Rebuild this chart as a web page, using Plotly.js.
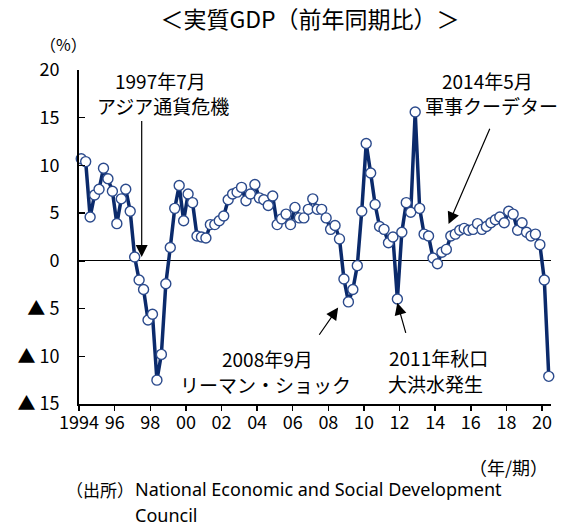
<!DOCTYPE html>
<html>
<head>
<meta charset="utf-8">
<script src="https://cdn.plot.ly/plotly-3.0.1.min.js"></script>
<style>html,body{margin:0;padding:0;background:#fff;}#chart{width:574px;height:526px;}</style>
</head>
<body>
<div id="chart"></div>
<script>
// Thailand real GDP, year-on-year change (%), quarterly from 1994 Q1 to 2020 Q2
const startYear = 1994;
const gdpYoY = [
  10.7, 10.4, 4.6, 6.9,     // 1994
  7.5, 9.7, 8.6, 7.3,       // 1995
  3.9, 6.5, 7.5, 5.2,       // 1996
  0.4, -2.0, -3.0, -6.2,    // 1997
  -5.6, -12.5, -9.8, -2.4,  // 1998
  1.4, 5.5, 7.9, 4.2,       // 1999
  7.0, 6.1, 2.6, 2.5,       // 2000
  2.4, 3.8, 3.8, 4.2,       // 2001
  4.7, 6.4, 7.0, 7.2,       // 2002
  7.7, 6.3, 7.0, 8.0,       // 2003
  6.6, 6.4, 5.8, 6.8,       // 2004
  3.8, 4.4, 4.9, 3.8,       // 2005
  5.6, 4.5, 4.5, 5.4,       // 2006
  6.5, 5.4, 5.4, 4.5,       // 2007
  3.3, 3.7, 2.3, -1.9,      // 2008
  -4.3, -3.0, -0.5, 5.2,    // 2009
  12.3, 9.2, 5.9, 3.6,      // 2010
  3.3, 1.9, 2.5, -4.0,      // 2011
  3.0, 6.1, 5.1, 15.6,      // 2012
  5.5, 2.8, 2.6, 0.3,       // 2013
  -0.3, 0.9, 1.2, 2.6,      // 2014
  2.8, 3.2, 3.4, 3.2,       // 2015
  3.3, 3.9, 3.3, 3.6,       // 2016
  4.0, 4.3, 4.6, 4.0,       // 2017
  5.2, 4.9, 3.2, 4.0,       // 2018
  3.0, 2.6, 2.8, 1.7,       // 2019
  -2.0, -12.1               // 2020
];
const xTickVals = [1994, 1996, 1998, 2000, 2002, 2004, 2006, 2008, 2010, 2012, 2014, 2016, 2018, 2020];
const xTickText = ["1994", "96", "98", "00", "02", "04", "06", "08", "10", "12", "14", "16", "18", "20"];
const yTickVals = [-15, -10, -5, 0, 5, 10, 15, 20];
const yTickText = ["▲ 15", "▲ 10", "▲ 5", "0", "5", "10", "15", "20"];

// quarter centre position on a continuous year axis
const xPos = gdpYoY.map((_, i) => startYear + Math.floor(i / 4) + (i % 4) / 4 + 0.125);

const FONT = '"Noto Sans CJK JP", "Noto Sans", sans-serif';
const L = 79, R = 551, T = 70, B = 404;
const px = v => (v - L) / (R - L);
const py = v => (B - v) / (B - T);

const trace = {
  x: xPos, y: gdpYoY, type: 'scatter', mode: 'lines+markers',
  line: {color: '#0b2a6b', width: 3.5},
  marker: {size: 10, color: '#ffffff', line: {color: '#2b4a8c', width: 1.4}},
  cliponaxis: false, hoverinfo: 'skip'
};

function txt(text, x, y, size, xanchor, family) {
  return {text: text, xref: 'paper', yref: 'paper', x: px(x), y: py(y), showarrow: false,
          xanchor: xanchor || 'center', yanchor: 'middle',
          font: {family: family || FONT, size: size, color: '#000'}};
}
function arrow(x, y, ax, ay) {
  return {text: '', x: x, y: y, ax: ax, ay: ay, xref: 'x', yref: 'y', axref: 'x', ayref: 'y',
          showarrow: true, arrowhead: 2, arrowsize: 2, arrowwidth: 1.2, arrowcolor: '#000'};
}

const layout = {
  width: 574, height: 526,
  margin: {l: L, r: 574 - R, t: T, b: 526 - B},
  paper_bgcolor: '#fff', plot_bgcolor: '#fff', showlegend: false,
  title: {text: '＜実質GDP（前年同期比）＞', x: 310 / 574, xanchor: 'center', xref: 'container',
          y: 1 - 20 / 526, yanchor: 'middle', yref: 'container', font: {family: FONT, size: 23, color: '#000'}},
  xaxis: {range: [1994, 2020.5], tickmode: 'array', tickvals: xTickVals, ticktext: xTickText,
          ticks: 'outside', ticklen: 5, tickwidth: 1.5, tickcolor: '#000',
          showline: true, linecolor: '#000', linewidth: 2, showgrid: false, zeroline: false,
          ticklabelstandoff: -4,
          tickfont: {family: FONT, size: 18, color: '#000'}, fixedrange: true},
  yaxis: {range: [-15, 20], tickmode: 'array', tickvals: yTickVals, ticktext: yTickText,
          ticks: 'inside', ticklen: 6, tickwidth: 1.5, tickcolor: '#000',
          showline: true, linecolor: '#000', linewidth: 2, showgrid: false,
          zeroline: true, zerolinecolor: '#000', zerolinewidth: 1,
          ticklabelstandoff: 14,
          tickfont: {family: FONT, size: 18, color: '#000'}, fixedrange: true},
  annotations: [
    txt('（%）', 63, 44, 16),
    txt('1997年7月', 160, 80, 19),
    txt('アジア通貨危機', 163, 105, 19),
    txt('2014年5月', 487, 80, 19),
    txt('軍事クーデター', 491, 105, 19),
    txt('2008年9月', 267, 358, 19),
    txt('リーマン・ショック', 265, 384, 19),
    txt('2011年秋口', 438, 357, 19),
    txt('大洪水発生', 435, 383, 19),
    txt('（年/期）', 550, 467, 18, 'right'),
    txt('（出所）', 64, 489, 17, 'left'),
    txt('National Economic and Social Development', 133, 489, 18, 'left', '"Noto Sans", sans-serif'),
    txt('Council', 133, 515, 18, 'left', '"Noto Sans", sans-serif'),
    arrow(1997.52, 0.4, 1997.52, 14.8),
    arrow(2014.75, 3.85, 2017.1, 14.0),
    arrow(2008.55, -4.9, 2007.43, -7.9),
    arrow(2011.87, -4.4, 2012.37, -7.7)
  ]
};

Plotly.newPlot('chart', [trace], layout, {staticPlot: true, displayModeBar: false});
</script>
</body>
</html>
